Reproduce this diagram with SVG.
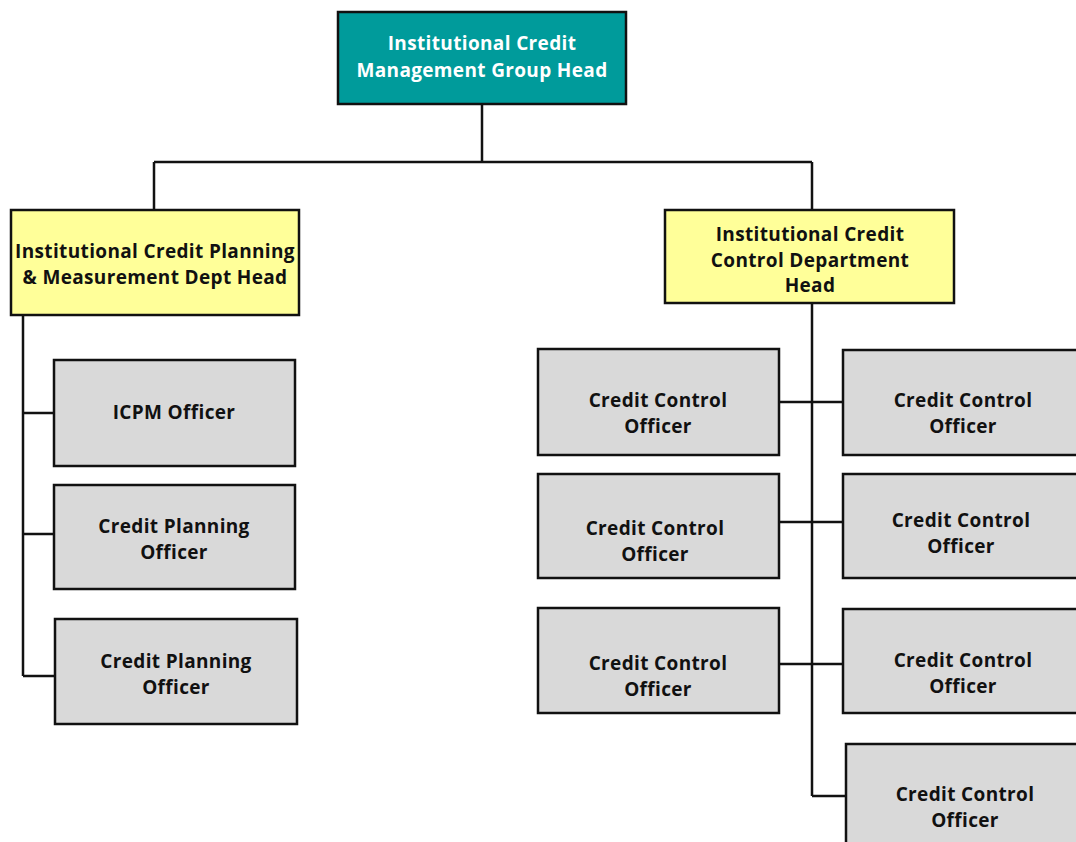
<svg xmlns="http://www.w3.org/2000/svg" width="1076" height="842" viewBox="0 0 1076 842">
<style>
.box{stroke:#111;stroke-width:2.5}
.top{fill:#009b9b}
.dept{fill:#ffff99}
.off{fill:#d9d9d9}
text{font-family:"Open Sans","Liberation Sans",sans-serif;font-weight:bold;font-size:19px;letter-spacing:0.35px;text-anchor:middle;fill:#111}
.w{fill:#fff}
.conn{stroke:#111;stroke-width:2.5;fill:none}
</style>
<rect width="1076" height="842" fill="#fff"/>
<g id="connectors">
<path class="conn" d="M482 104V162M154 162H812M154 162V210M812 162V210"/>
<path class="conn" d="M23 315V676M23 413H54M23 534H54M23 676H55"/>
<path class="conn" d="M812 303V796M779 402H843M779 522H843M779 664H843M812 796H846"/>
</g>
<g id="n-top"><rect class="box top" x="338" y="12" width="288" height="92"/><text class="w" x="482" y="50">Institutional Credit</text><text class="w" x="482" y="77">Management Group Head</text></g>
<g id="n-icpm-head"><rect class="box dept" x="11" y="210" width="288" height="105"/><text x="155" y="258">Institutional Credit Planning</text><text x="155" y="284">&amp; Measurement Dept Head</text></g>
<g id="n-icc-head"><rect class="box dept" x="665" y="210" width="289" height="93"/><text x="810" y="241">Institutional Credit</text><text x="810" y="267">Control Department</text><text x="810" y="292">Head</text></g>
<g id="n-icpm"><rect class="box off" x="54" y="360" width="241" height="106"/><text x="174" y="419">ICPM Officer</text></g>
<g id="n-cp1"><rect class="box off" x="54" y="485" width="241" height="104"/><text x="174" y="533">Credit Planning</text><text x="174" y="559">Officer</text></g>
<g id="n-cp2"><rect class="box off" x="55" y="619" width="242" height="105"/><text x="176" y="668">Credit Planning</text><text x="176" y="694">Officer</text></g>
<g id="n-cc1"><rect class="box off" x="538" y="349" width="241" height="106"/><text x="658" y="407">Credit Control</text><text x="658" y="433">Officer</text></g>
<g id="n-cc2"><rect class="box off" x="843" y="350" width="240" height="105"/><text x="963" y="407">Credit Control</text><text x="963" y="433">Officer</text></g>
<g id="n-cc3"><rect class="box off" x="538" y="474" width="241" height="104"/><text x="655" y="535">Credit Control</text><text x="655" y="561">Officer</text></g>
<g id="n-cc4"><rect class="box off" x="843" y="474" width="240" height="104"/><text x="961" y="527">Credit Control</text><text x="961" y="553">Officer</text></g>
<g id="n-cc5"><rect class="box off" x="538" y="608" width="241" height="105"/><text x="658" y="670">Credit Control</text><text x="658" y="696">Officer</text></g>
<g id="n-cc6"><rect class="box off" x="843" y="609" width="240" height="104"/><text x="963" y="667">Credit Control</text><text x="963" y="693">Officer</text></g>
<g id="n-cc7"><rect class="box off" x="846" y="744" width="240" height="110"/><text x="965" y="801">Credit Control</text><text x="965" y="827">Officer</text></g>
</svg>
